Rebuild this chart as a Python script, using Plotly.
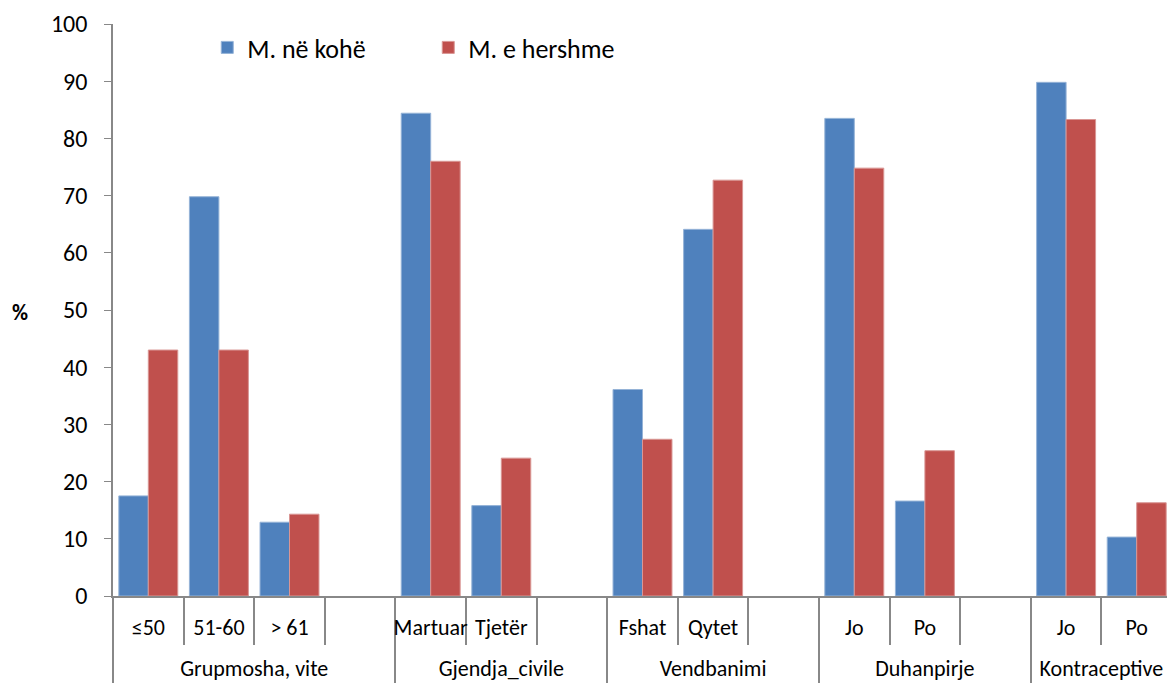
import plotly.graph_objects as go

groups = ["Grupmosha, vite"] * 4 + ["Gjendja_civile"] * 3 + ["Vendbanimi"] * 3 + ["Duhanpirje"] * 3 + ["Kontraceptive"] * 2
subcats = ["≤50", "51-60", "> 61", "", "Martuar", "Tjetër", "", "Fshat", "Qytet", "", "Jo", "Po", "", "Jo", "Po"]
ne_kohe = [17.5, 69.8, 12.9, None, 84.4, 15.8, None, 36.1, 64.1, None, 83.5, 16.6, None, 89.8, 10.3]
e_hershme = [43.0, 43.0, 14.3, None, 76.0, 24.1, None, 27.4, 72.7, None, 74.8, 25.4, None, 83.3, 16.3]
series_names = ["M. në kohë", "M. e hershme"]
y_ticks = list(range(0, 101, 10))

FONT = "Carlito, Lato, Liberation Sans, sans-serif"
AXIS_GREY = "#888888"

# empty slots get a unique, tall blank label: it deepens the first label row so the
# group-name row sits lower, as in the reference
sub_labels = []
n_blank = 0
for s in subcats:
    if s == "":
        n_blank += 1
        s = "<span style='font-size:41px'>" + "\u00a0" * n_blank + "</span>"
    sub_labels.append(s)
x_cats = [groups, sub_labels]

fig = go.Figure()
fig.add_trace(go.Bar(x=x_cats, y=ne_kohe, name=series_names[0],
                     marker=dict(color="#4F81BD", line=dict(color="#95B3D7", width=1))))
fig.add_trace(go.Bar(x=x_cats, y=e_hershme, name=series_names[1],
                     marker=dict(color="#C0504D", line=dict(color="#D99694", width=1))))

# page body has an 8px default margin, so the figure is sized to fit inside it
fig.update_layout(
    width=1167, height=676,
    margin=dict(l=105, r=3, t=16, b=88, autoexpand=False),
    paper_bgcolor="white", plot_bgcolor="white",
    barmode="group", bargap=0.165, bargroupgap=0,
    font=dict(family=FONT, size=22, color="black"),
    showlegend=True,
    legend=dict(orientation="h", x=0.089, y=1.0, xanchor="left", yanchor="top",
                font=dict(size=26), entrywidth=176, entrywidthmode="pixels",
                itemwidth=30, bgcolor="rgba(0,0,0,0)"),
    xaxis=dict(type="multicategory", showline=True, linecolor=AXIS_GREY, linewidth=1.5,
               ticks="outside", tickson="boundaries", ticklen=47, tickcolor=AXIS_GREY,
               tickwidth=1.5, showdividers=True, dividercolor=AXIS_GREY, dividerwidth=1.5,
               showgrid=False, tickangle=0, tickfont=dict(size=22), automargin=False,
               ticklabelstandoff=11),
    yaxis=dict(range=[0, 100], tickvals=y_ticks, showline=True, linecolor=AXIS_GREY,
               linewidth=1.5, ticks="outside", ticklen=7, tickcolor=AXIS_GREY,
               showgrid=False, zeroline=False, tickfont=dict(size=24), automargin=False,
               ticklabelstandoff=12),
    annotations=[dict(text="<b>%</b>", xref="paper", yref="paper", x=-0.088, y=0.495,
                      showarrow=False, font=dict(size=22), xanchor="center", yanchor="middle")],
)

fig.write_html("out.html")
